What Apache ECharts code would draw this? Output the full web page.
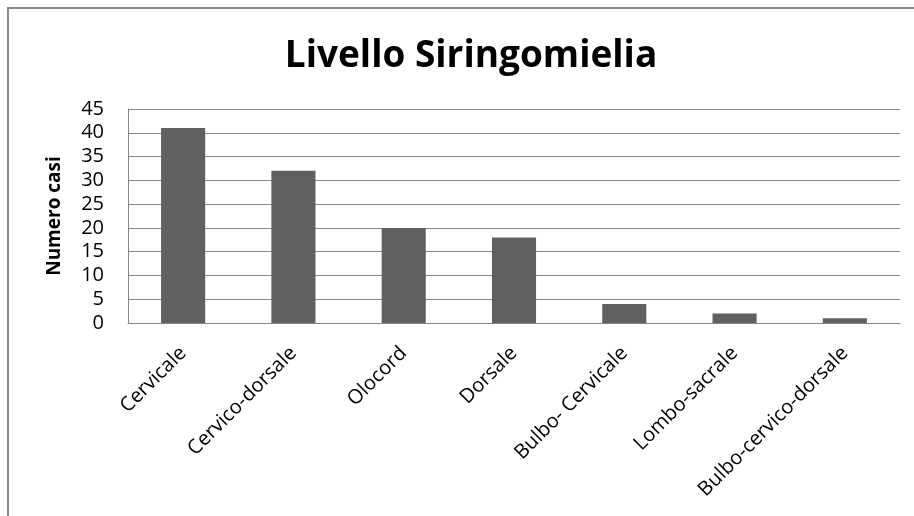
<!DOCTYPE html>
<html>
<head>
<meta charset="utf-8">
<script src="https://cdn.jsdelivr.net/npm/echarts@6/dist/echarts.min.js"></script>
<style>
  html, body { margin: 0; padding: 0; background: #fff; }
  #chart { width: 914px; height: 516px; }
</style>
</head>
<body>
<div id="chart"></div>
<script>
// Spinal level of syringomyelia: number of cases per level
const categories = ['Cervicale', 'Cervico-dorsale', 'Olocord', 'Dorsale', 'Bulbo- Cervicale', 'Lombo-sacrale', 'Bulbo-cervico-dorsale'];
const casi = [41, 32, 20, 18, 4, 2, 1];
const yTicks = { min: 0, max: 45, interval: 5 };

const chart = echarts.init(document.getElementById('chart'), null, { renderer: 'canvas' });

chart.setOption({
  animation: false,
  backgroundColor: '#ffffff',
  graphic: [{
    type: 'rect',
    shape: { x: 8, y: 8, width: 940, height: 540 },
    style: { fill: 'none', stroke: '#8a8a8a', lineWidth: 2 },
    silent: true,
    z: 100
  }],
  title: {
    text: 'Livello Siringomielia',
    left: 466,
    textAlign: 'center',
    top: 33,
    textStyle: { fontFamily: 'Open Sans', fontWeight: 'bold', fontSize: 37, color: '#000' }
  },
  grid: { left: 128, right: 14, top: 109, bottom: 193, containLabel: false },
  xAxis: {
    type: 'category',
    data: categories,
    axisLine: { lineStyle: { color: '#868686', width: 1 } },
    axisTick: { show: false },
    axisLabel: {
      interval: 0,
      rotate: 45,
      margin: 27,
      fontFamily: 'Open Sans',
      fontSize: 20,
      color: '#000'
    }
  },
  yAxis: {
    type: 'value',
    min: yTicks.min,
    max: yTicks.max,
    interval: yTicks.interval,
    name: 'Numero casi',
    nameLocation: 'middle',
    nameGap: 64,
    nameTextStyle: { fontFamily: 'Open Sans', fontWeight: 'bold', fontSize: 19, color: '#000' },
    axisLine: { show: true, lineStyle: { color: '#868686', width: 1 } },
    axisTick: { show: false },
    splitLine: { lineStyle: { color: '#868686', width: 1 } },
    axisLabel: { margin: 24, fontFamily: 'Open Sans', fontSize: 20, color: '#000' }
  },
  series: [{
    type: 'bar',
    data: casi,
    barWidth: '40%',
    itemStyle: { color: '#606060' }
  }]
});
</script>
</body>
</html>
